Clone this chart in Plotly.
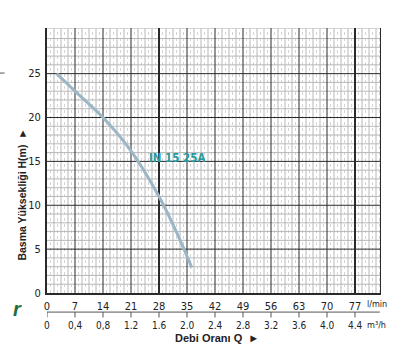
import numpy as np
import plotly.graph_objects as go

# ---- data ----
flow_lpm = [2.4, 7, 14, 21, 28, 32, 36.2]
head_m = [25.0, 23.0, 20.0, 16.2, 11.0, 7.3, 2.9]
x_ticks = [0, 7, 14, 21, 28, 35, 42, 49, 56, 63, 70, 77]
y_ticks = [0, 5, 10, 15, 20, 25]
m3h_labels = ["0", "0,4", "0,8", "1.2", "1.6", "2.0", "2.4", "2.8", "3.2", "3.6", "4.0", "4.4"]
series_name = "IN 15 25A"

XMAX, YMAX = 83.5, 30.2
NARROW = "Liberation Sans Narrow, Arial Narrow, DejaVu Sans Condensed, Arial, sans-serif"
SANS = "Liberation Sans, Arial, sans-serif"

fig = go.Figure()
fig.add_trace(go.Scatter(x=flow_lpm, y=head_m, mode="lines",
                         line=dict(color="#9db6c6", width=3, shape="spline", smoothing=1.0),
                         showlegend=False, hoverinfo="skip"))

shapes = []
# minor vertical grid
for v in np.arange(0.875, XMAX, 0.875):
    if abs(v / 7 - round(v / 7)) < 1e-6:
        continue
    solid = abs(v / 1.75 - round(v / 1.75)) < 1e-6
    shapes.append(dict(type="line", xref="x", yref="y", x0=v, x1=v, y0=0, y1=YMAX, layer="below",
                       line=dict(color="#b8b8b8" if solid else "#d4d4d4", width=1,
                                 dash="solid" if solid else "dot")))
# minor horizontal grid
for h in np.arange(1, YMAX, 1):
    if h % 5 == 0:
        continue
    shapes.append(dict(type="line", xref="x", yref="y", x0=0, x1=XMAX, y0=h, y1=h, layer="below",
                       line=dict(color="#b8b8b8", width=1)))
# top border light
shapes.append(dict(type="line", xref="x", yref="y", x0=0, x1=XMAX, y0=YMAX, y1=YMAX, layer="below",
                   line=dict(color="#b8b8b8", width=1)))
# major grid
for v in x_ticks[1:]:
    shapes.append(dict(type="line", xref="x", yref="y", x0=v, x1=v, y0=0, y1=YMAX, layer="below",
                       line=dict(color="#2a2a2a", width=2 if v in (28, 77) else 1)))
for h in y_ticks[1:]:
    shapes.append(dict(type="line", xref="x", yref="y", x0=0, x1=XMAX, y0=h, y1=h, layer="below",
                       line=dict(color="#2a2a2a", width=1)))
# right border
shapes.append(dict(type="line", xref="x", yref="y", x0=XMAX, x1=XMAX, y0=0, y1=YMAX,
                   line=dict(color="#2a2a2a", width=2)))

# secondary m3/h scale below
LINE_Y = -0.072
shapes.append(dict(type="line", xref="x", yref="paper", x0=0, x1=XMAX - 0.3, y0=LINE_Y, y1=LINE_Y,
                   line=dict(color="#555555", width=1)))
annotations = []
for v, lab in zip(x_ticks, m3h_labels):
    shapes.append(dict(type="line", xref="x", yref="paper", x0=v, x1=v, y0=LINE_Y, y1=LINE_Y - 0.02,
                       line=dict(color="#555555", width=1)))
    annotations.append(dict(x=v, y=-0.122, xref="x", yref="paper", text=lab, showarrow=False,
                            font=dict(family=NARROW, size=10, color="#222222"), yanchor="middle"))

annotations += [
    dict(x=79.6, y=-0.043, xref="x", yref="paper", text="l/min", showarrow=False, xanchor="left",
         font=dict(family=NARROW, size=9, color="#222222"), yanchor="middle"),
    dict(x=79.6, y=-0.122, xref="x", yref="paper", text="m³/h", showarrow=False, xanchor="left",
         font=dict(family=NARROW, size=9, color="#222222"), yanchor="middle"),
    dict(x=42.5, y=-0.168, xref="x", yref="paper", text="<b>Debi Oranı Q  ►</b>", showarrow=False,
         font=dict(family=SANS, size=11, color="#222222"), yanchor="middle"),
    dict(x=-0.1, y=0.37, xref="paper", yref="paper", text="<b>Basma Yüksekliği H(m)  ►</b>",
         textangle=-90, showarrow=False,
         font=dict(family=SANS, size=10.5, color="#222222")),
    dict(x=32.6, y=15.4, xref="x", yref="y", text="<b>" + series_name + "</b>", showarrow=False,
         font=dict(family=NARROW, size=11.5, color="#2a9a9c")),
    dict(x=-0.108, y=-0.11, xref="paper", yref="paper", text="<b><i>r</i></b>", showarrow=False,
         font=dict(family=SANS, size=20, color="#1d6e3e")),
]
shapes.append(dict(type="line", xref="paper", yref="paper", x0=-0.141, x1=-0.127, y0=0.83, y1=0.83,
                   line=dict(color="#555555", width=1)))

fig.update_layout(
    width=415, height=353,
    margin=dict(l=47, r=34, t=28, b=60),
    paper_bgcolor="white", plot_bgcolor="white",
    shapes=shapes, annotations=annotations,
    xaxis=dict(range=[0, XMAX], tickvals=x_ticks, ticktext=[str(v) for v in x_ticks],
               showgrid=False, zeroline=False, showline=True, linecolor="#2a2a2a", linewidth=2,
               ticks="outside", ticklen=2, tickcolor="white",
               tickfont=dict(family=NARROW, size=11, color="#222222")),
    yaxis=dict(range=[0, YMAX], tickvals=y_ticks, showgrid=False, zeroline=False,
               showline=True, linecolor="#2a2a2a", linewidth=2,
               ticks="outside", ticklen=2, tickcolor="white",
               tickfont=dict(family=NARROW, size=11, color="#222222")),
)

fig.write_html("out.html")
